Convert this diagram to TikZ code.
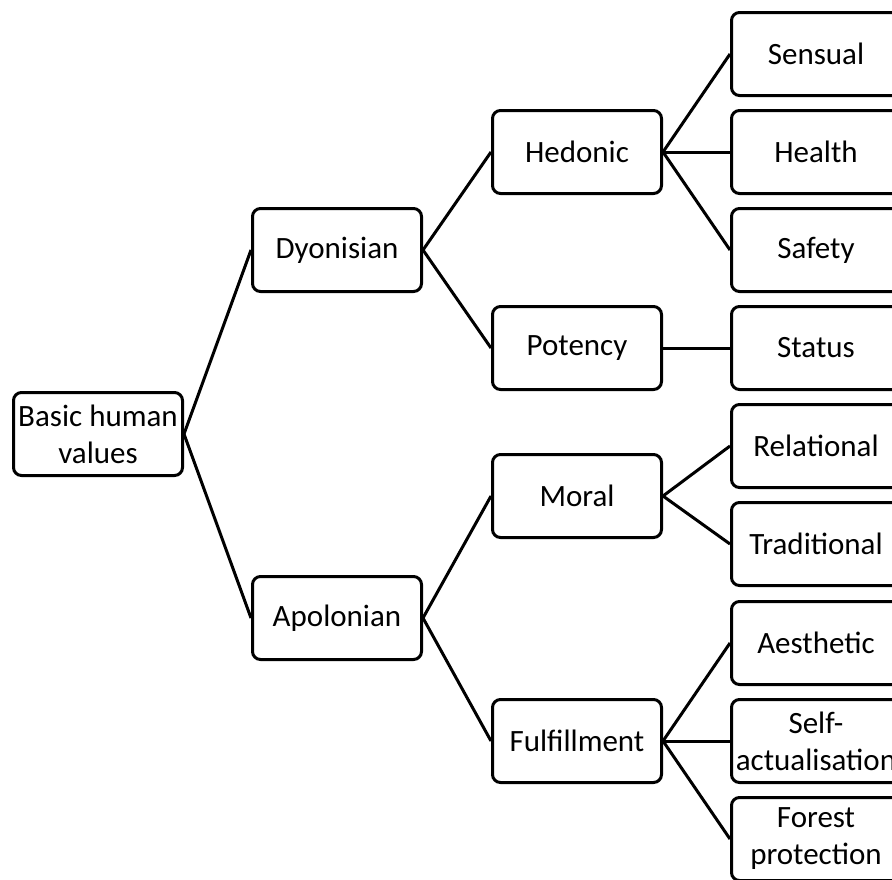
\documentclass[tikz,border=0pt]{standalone}
\usepackage{fontspec}
\setmainfont{Carlito}
\usepackage{tikz}
\usetikzlibrary{positioning}
\tikzset{
    valbox/.style={rectangle, rounded corners=8pt, draw=black, line width=3pt,
                   fill=white, align=center, inner sep=0pt,
                   minimum width=169pt, minimum height=83pt,
                   font=\fontsize{31}{37}\selectfont},
    link/.style={draw=black, line width=3pt}
}
\begin{document}
\begin{tikzpicture}[x=1pt, y=-1pt]
  \useasboundingbox (0,0) rectangle (892,879);
  \clip (0,0) rectangle (892,879);
  % root
  \node[valbox] (root) at (98,434) {Basic human\\values};
  % first level
  \node[valbox] (dyon) at (337,250) {Dyonisian};
  \node[valbox] (apol) at (337,618) {Apolonian};
  % second level
  \node[valbox] (hedo) at (577,152) {Hedonic};
  \node[valbox] (pote) at (577,348) {Potency};
  \node[valbox] (mora) at (577,496) {Moral};
  \node[valbox] (fulf) at (577,741) {Fulfillment};
  % leaves
  \node[valbox] (sens) at (816,54) {Sensual};
  \node[valbox] (heal) at (816,152) {Health};
  \node[valbox] (safe) at (816,250) {Safety};
  \node[valbox] (stat) at (816,348) {Status};
  \node[valbox] (rela) at (816,446) {Relational};
  \node[valbox] (trad) at (816,544) {Traditional};
  \node[valbox] (aest) at (816,643) {Aesthetic};
  \node[valbox] (self) at (816,741) {Self-\\actualisation};
  \node[valbox] (fore) at (816,839) {Forest\\protection};
  % connectors
  \draw[link] (root.east) -- (dyon.west);
  \draw[link] (root.east) -- (apol.west);
  \draw[link] (dyon.east) -- (hedo.west);
  \draw[link] (dyon.east) -- (pote.west);
  \draw[link] (apol.east) -- (mora.west);
  \draw[link] (apol.east) -- (fulf.west);
  \foreach \leaf in {sens,heal,safe}
    \draw[link] (hedo.east) -- (\leaf.west);
  \draw[link] (pote.east) -- (stat.west);
  \foreach \leaf in {rela,trad}
    \draw[link] (mora.east) -- (\leaf.west);
  \foreach \leaf in {aest,self,fore}
    \draw[link] (fulf.east) -- (\leaf.west);
\end{tikzpicture}
\end{document}
